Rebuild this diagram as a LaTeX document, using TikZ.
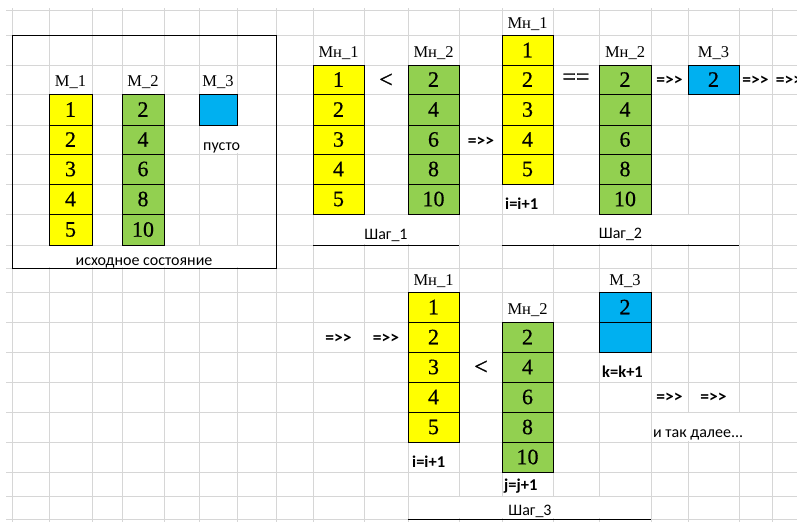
\documentclass[tikz,border=0pt]{standalone}
\usepackage{fontspec}
\setmainfont{Liberation Serif}
\newfontfamily\numf[FakeBold=0.5]{Liberation Serif}
\newfontfamily\lblf{Liberation Serif}
\newfontfamily\symf[FakeBold=0.9]{Liberation Serif}
\newfontfamily\calf{Carlito}
\definecolor{myyellow}{HTML}{FFFF00}
\definecolor{mygreen}{HTML}{92D050}
\definecolor{myblue}{HTML}{00B0F0}
\definecolor{gridgray}{HTML}{D6D6D6}
\tikzset{
  gridline/.style={draw=gridgray,line width=1pt},
  cell/.style={draw=black,line width=0.9pt,inner sep=0pt,outer sep=0pt,font=\numf\fontsize{22}{24}\selectfont},
  lbl/.style={inner sep=0pt,anchor=base,font=\lblf\fontsize{16.5}{18}\selectfont},
  sym/.style={inner sep=0pt,font=\symf\fontsize{24}{26}\selectfont},
  arr/.style={inner sep=0pt,font=\calf\bfseries\fontsize{17.5}{19}\selectfont},
  note/.style={inner sep=0pt,anchor=base west,font=\calf\fontsize{16}{18}\selectfont},
  bnote/.style={inner sep=0pt,anchor=base west,font=\calf\bfseries\fontsize{16.5}{18}\selectfont},
  caption/.style={inner sep=0pt,anchor=base,font=\calf\fontsize{16}{18}\selectfont},
  frame/.style={draw=black,line width=0.9pt,inner sep=0pt},
  uline/.style={draw=black,line width=1pt},
  hide/.style={fill=white,draw=none}
}
\newcommand\mkcell[7]{\node[cell,fill=#6,minimum width={#4-#2},minimum height={#5-#3}] (#1) at ({(#2+#4)/2},{(#3+#5)/2}) {#7};}
\begin{document}
\begin{tikzpicture}[x=1pt,y=-1pt]
\useasboundingbox (0,0) rectangle (797,522);
\clip (0,0) rectangle (797,522);
\fill[white] (0,0) rectangle (797,522);
% spreadsheet grid
\foreach \yy in {10,35,65,94,125,154,184,214,245,268,292,322,352,382,412,442,472,496,519}
  \draw[gridline] (6,\yy) -- (797,\yy);
\foreach \xx in {12,49,92,122,164,199,237,276,313,364,408,459,502,553,599,651,688,739,772}
  \draw[gridline] (\xx,8) -- (\xx,522);
% areas where overflowing text hides the grid
\fill[hide] (13,246) rectangle (275,267);
\fill[hide] (236,126) rectangle (238,153);
\fill[hide] (314,215) rectangle (458,244);
\fill[hide] (503,215) rectangle (738,244);
\fill[hide] (409,497) rectangle (650,518);
\fill[hide] (652,413) rectangle (771,441);

% ---------- initial state ----------
\node[frame,minimum width=264,minimum height=233] (box) at (144,151.5) {};
\node[lbl] (iL1) at (70.5,86) {М\_1};
\node[lbl] (iL2) at (143,86) {М\_2};
\node[lbl] (iL3) at (218,86) {М\_3};
\foreach \t/\b/\v [count=\i] in {94/125/1,125/154/2,154/184/3,184/214/4,214/245/5}
  {\mkcell{iA\i}{49}{\t}{92}{\b}{myyellow}{\v}}
\foreach \t/\b/\v [count=\i] in {94/125/2,125/154/4,154/184/6,184/214/8,214/245/10}
  {\mkcell{iB\i}{122}{\t}{164}{\b}{mygreen}{\v}}
\mkcell{iC1}{199}{94}{237}{125}{myblue}{}
\node[note] (empty) at (203,150) {пусто};
\node[caption] (init) at (144,265) {исходное состояние};

% ---------- step 1 ----------
\node[lbl] (aL1) at (338.5,57) {Мн\_1};
\node[lbl] (aL2) at (433.5,57) {Мн\_2};
\foreach \t/\b/\v [count=\i] in {65/94/1,94/125/2,125/154/3,154/184/4,184/214/5}
  {\mkcell{aA\i}{313}{\t}{364}{\b}{myyellow}{\v}}
\foreach \t/\b/\v [count=\i] in {65/94/2,94/125/4,125/154/6,154/184/8,184/214/10}
  {\mkcell{aB\i}{408}{\t}{459}{\b}{mygreen}{\v}}
\node[sym] (aLess) at (386,80.5) {<};
\node[arr] (aGo) at (481,142) {=>>};
\node[caption] (step1) at (386,239) {Шаг\_1};
\draw[uline] (313,245) -- (459,245);

% ---------- step 2 ----------
\node[lbl] (bL1) at (527.5,28) {Мн\_1};
\node[lbl] (bL2) at (625,57) {Мн\_2};
\node[lbl] (bL3) at (713.5,57) {М\_3};
\foreach \t/\b/\v [count=\i] in {35/65/1,65/94/2,94/125/3,125/154/4,154/184/5}
  {\mkcell{bA\i}{502}{\t}{553}{\b}{myyellow}{\v}}
\foreach \t/\b/\v [count=\i] in {65/94/2,94/125/4,125/154/6,154/184/8,184/214/10}
  {\mkcell{bB\i}{599}{\t}{651}{\b}{mygreen}{\v}}
\mkcell{bC1}{688}{65}{739}{94}{myblue}{2}
\node[sym] (bEq) at (576,79) {==};
\node[arr] (bGo1) at (669.5,81) {=>>};
\node[arr] (bGo2) at (755.5,81) {=>>};
\node[arr] (bGo3) at (789,81) {=>>};
\node[bnote] (bInc) at (505,209) {i=i+1};
\node[caption] (step2) at (620.5,238) {Шаг\_2};
\draw[uline] (502,245) -- (739,245);

% ---------- step 3 ----------
\node[arr] (cGo1) at (338.5,338.5) {=>>};
\node[arr] (cGo2) at (386,338.5) {=>>};
\node[lbl] (cL1) at (433.5,285) {Мн\_1};
\node[lbl] (cL2) at (527.5,314) {Мн\_2};
\node[lbl] (cL3) at (625,285) {М\_3};
\foreach \t/\b/\v [count=\i] in {292/322/1,322/352/2,352/382/3,382/412/4,412/442/5}
  {\mkcell{cA\i}{408}{\t}{459}{\b}{myyellow}{\v}}
\foreach \t/\b/\v [count=\i] in {322/352/2,352/382/4,382/412/6,412/442/8,442/472/10}
  {\mkcell{cB\i}{502}{\t}{553}{\b}{mygreen}{\v}}
\mkcell{cC1}{599}{292}{651}{322}{myblue}{2}
\mkcell{cC2}{599}{322}{651}{352}{myblue}{}
\node[sym] (cLess) at (481,367.5) {<};
\node[bnote] (cIncI) at (412,467) {i=i+1};
\node[bnote] (cIncJ) at (504,490) {j=j+1};
\node[bnote] (cIncK) at (602,377) {k=k+1};
\node[arr] (cGo3) at (669.5,398) {=>>};
\node[arr] (cGo4) at (713.5,398) {=>>};
\node[note] (etc) at (653,437) {и так далее...};
\node[caption] (step3) at (530,515) {Шаг\_3};
\draw[uline] (408,519) -- (651,519);
\end{tikzpicture}
\end{document}
